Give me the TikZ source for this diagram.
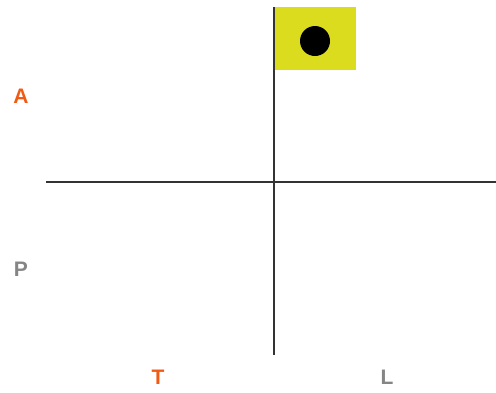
\documentclass[tikz,border=0pt]{standalone}
\usepackage{fontspec}
\setmainfont{Liberation Sans}
\usepackage{tikz}
\definecolor{flagyellow}{HTML}{DCDC1E}
\definecolor{axisorange}{HTML}{F05A14}
\definecolor{axisgray}{HTML}{858585}
\definecolor{axisline}{HTML}{333333}

\begin{document}
\begin{tikzpicture}[x=1pt, y=-1pt,
  axislabel/.style={font=\bfseries\fontsize{21}{24}\selectfont, inner sep=0pt}]
\useasboundingbox (0,0) rectangle (496,392);
\fill[flagyellow] (274,7) rectangle (356,70);
\node[circle, fill=black, minimum size=30pt, inner sep=0pt] (dot) at (315,41) {};
\coordinate (top) at (274,7);
\coordinate (bottom) at (274,355);
\coordinate (left) at (46,182);
\coordinate (right) at (496,182);
\draw[axisline, line width=1.8pt] (top) -- (bottom);
\draw[axisline, line width=1.8pt] (left) -- (right);
\node[axislabel, text=axisorange] (labA) at (21,96) {A};
\node[axislabel, text=axisgray] (labP) at (21,269) {P};
\node[axislabel, text=axisorange] (labT) at (158,377) {T};
\node[axislabel, text=axisgray] (labL) at (387,377) {L};
\end{tikzpicture}
\end{document}
